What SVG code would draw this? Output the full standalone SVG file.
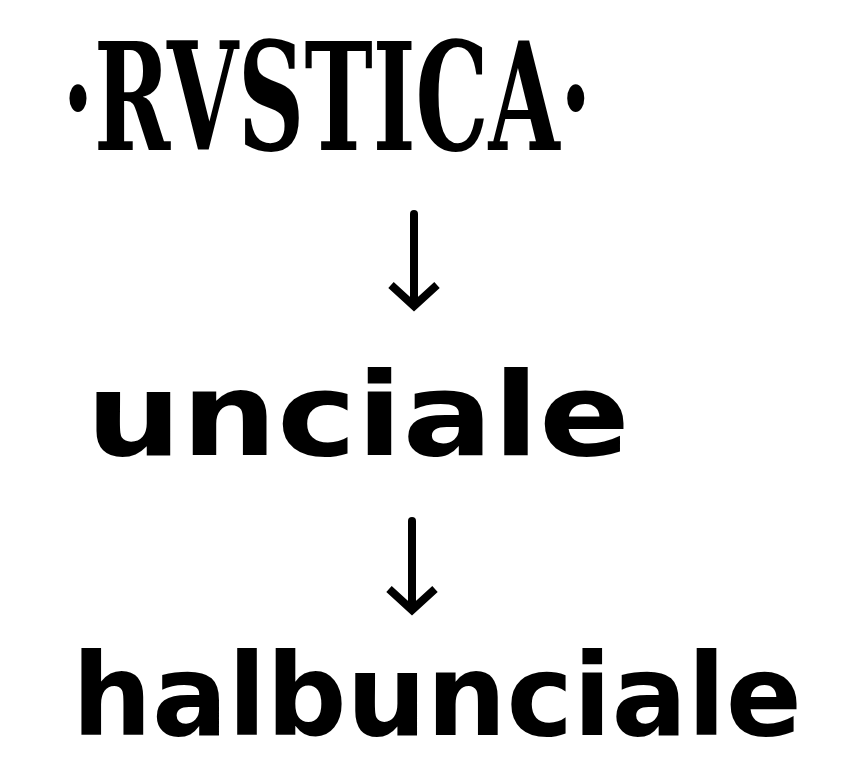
<svg xmlns="http://www.w3.org/2000/svg" width="853" height="777" viewBox="0 0 853 777">
<style>
.bg{fill:#ffffff}
.rustic{font-family:"DejaVu Serif","Liberation Serif",serif;font-weight:bold;fill:#000}
.uncial{font-family:"DejaVu Sans","Liberation Sans",sans-serif;font-weight:bold;fill:#000}
.shaft{stroke:#000;stroke-width:8;fill:none;stroke-linecap:round}
.head{stroke:#000;stroke-width:8;fill:none;stroke-linejoin:miter;stroke-linecap:butt}
</style>
<rect class="bg" x="0" y="0" width="853" height="777"/>
<g id="node-rustica">
<text class="rustic" transform="translate(62,150) scale(0.65,1)" x="0" y="0" font-size="150" textLength="815" lengthAdjust="spacingAndGlyphs">·RVSTICA·</text>
</g>
<g id="node-unciale">
<text class="uncial" x="86" y="455" font-size="115" textLength="544" lengthAdjust="spacingAndGlyphs">unciale</text>
</g>
<g id="node-halbunciale">
<text class="uncial" x="72" y="735" font-size="114" textLength="730" lengthAdjust="spacingAndGlyphs">halbunciale</text>
</g>
<g id="connectors">
<path class="shaft" d="M414 214 V303"/>
<path class="head" d="M391 285 L414 306 L437 285"/>
<path class="shaft" d="M412 521 V607"/>
<path class="head" d="M389 589 L412 610 L435 589"/>
</g>
</svg>
